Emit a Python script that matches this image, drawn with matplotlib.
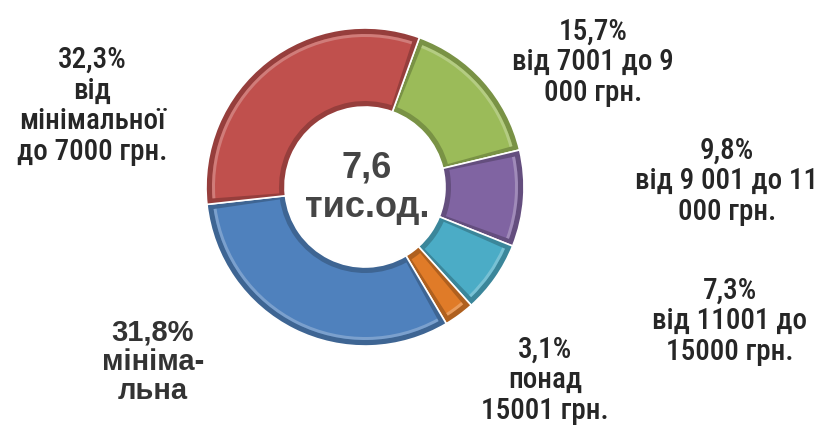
import matplotlib
matplotlib.use('Agg')
import matplotlib.pyplot as plt
from matplotlib.patches import Wedge
import matplotlib.colors as mcolors

# data: clockwise from the top
shares = [15.7, 9.8, 7.3, 3.1, 31.8, 32.3]
pct_labels = ['15,7%', '9,8%', '7,3%', '3,1%', '31,8%', '32,3%']
cat_labels = ['від 7001 до 9\n000 грн.',
              'від 9 001 до 11\n000 грн.',
              'від 11001 до\n15000 грн.',
              'понад\n15001 грн.',
              'мініма-\nльна',
              'від\nмінімальної\nдо 7000 грн.']
colors = ['#9BBB59', '#8064A2', '#4BACC6', '#E07B28', '#4F81BD', '#C0504D']
center_text = '7,6\nтис.од.'

# label centres in pixel coords (x, y from top)
label_pos = [(593, 62), (727, 181), (730, 321), (545, 380), (153, 362), (92, 106)]

W, H = 817, 431
fig = plt.figure(figsize=(W / 100, H / 100), dpi=100)
ax = fig.add_axes([0, 0, 1, 1])

cx, cy = 365, H - 188
R, ring = 159, 79

wedges, _ = ax.pie(shares, colors=colors, startangle=70, counterclock=False,
                   center=(cx, cy), radius=R, frame=True,
                   wedgeprops=dict(width=ring, edgecolor='white', linewidth=1.2))
ax.set_xlim(0, W)
ax.set_ylim(0, H)
ax.set_aspect('equal')
ax.axis('off')

# bevel look: darker frame + lighter inset
for w, c in zip(wedges, colors):
    rgb = mcolors.to_rgb(c)
    dark = tuple(v * 0.78 for v in rgb)
    w.set_facecolor(dark)
    inset = Wedge((cx, cy), R - 6, w.theta1 + 2.0, w.theta2 - 2.0, width=ring - 12,
                  facecolor=c, edgecolor='none')
    ax.add_patch(inset)
    light = tuple(min(1, v * 0.5 + 0.5) for v in rgb)
    hl = Wedge((cx, cy), R - 6, w.theta1 + 2.0, w.theta2 - 2.0, width=3,
               facecolor=light, edgecolor='none', alpha=0.5)
    ax.add_patch(hl)

narrow = ['Roboto Condensed', 'PT Sans Narrow', 'DejaVu Sans', 'Liberation Sans']

for i, (p, t) in enumerate(zip(pct_labels, cat_labels)):
    x, y = label_pos[i]
    if i == 4:
        ax.text(x, H - y, p + '\n' + t, ha='center', va='center', fontsize=21,
                fontweight='bold', family='Liberation Sans', color='#333333',
                linespacing=1.05)
    else:
        ax.text(x, H - y, p + '\n' + t, ha='center', va='center', fontsize=21,
                family=narrow, fontweight='medium', color='#262626',
                linespacing=1.12)

ax.text(cx + 2, cy + 0, center_text, ha='center', va='center', fontsize=26,
        fontweight='bold', family='Liberation Sans', color='#454545',
        linespacing=1.15)

fig.savefig('out.png', dpi=100)
